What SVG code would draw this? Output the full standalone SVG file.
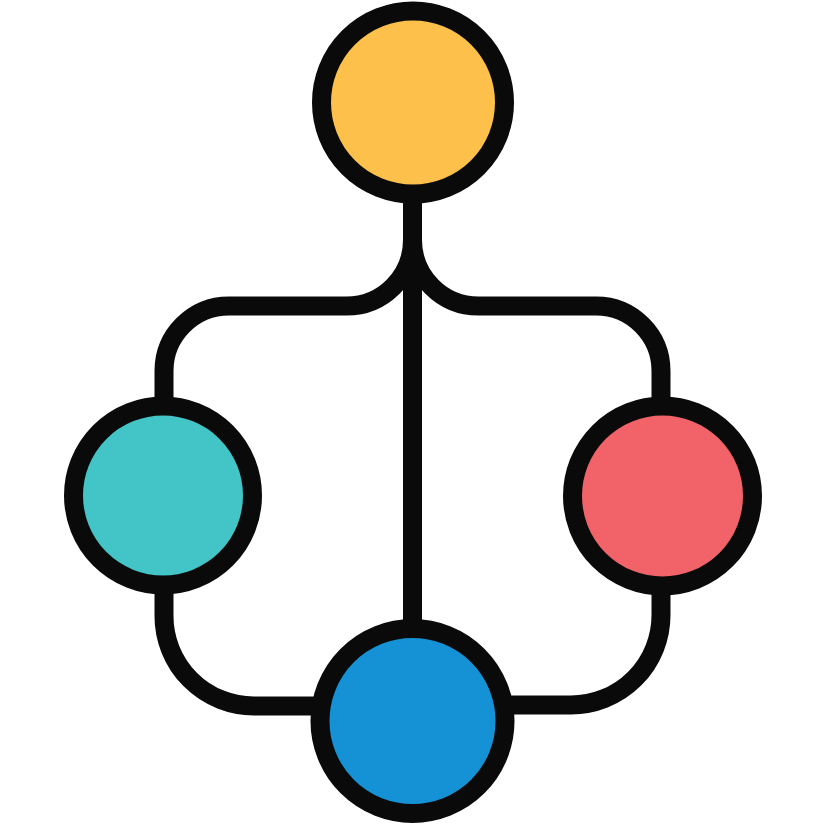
<svg xmlns="http://www.w3.org/2000/svg" width="825" height="825" viewBox="0 0 825 825">
  <style>
    .conn { fill: none; stroke: #0a0a0a; stroke-width: 19; stroke-linecap: butt; stroke-linejoin: round; }
    .node { stroke: #0a0a0a; stroke-width: 19; }
  </style>
  <rect width="825" height="825" fill="#ffffff"/>
  <g id="connectors">
    <path class="conn" d="M412.5 190 V240 A66 66 0 0 1 346.5 306 H229 A65 65 0 0 0 164 371 V420"/>
    <path class="conn" d="M412.5 240 A66 66 0 0 0 478.5 306 H596 A65 65 0 0 1 661 371 V420"/>
    <path class="conn" d="M412.5 190 V640"/>
    <path class="conn" d="M164 570 V616 A90 90 0 0 0 254 706 H330"/>
    <path class="conn" d="M661 570 V615 A90 90 0 0 1 571 705 H500"/>
  </g>
  <g id="node-top">
    <circle class="node" cx="413" cy="102.5" r="91.5" fill="#fdc04a"/>
  </g>
  <g id="node-left">
    <circle class="node" cx="163" cy="495.5" r="89.5" fill="#43c4c6"/>
  </g>
  <g id="node-right">
    <circle class="node" cx="662.5" cy="496" r="90" fill="#f16368"/>
  </g>
  <g id="node-bottom">
    <circle class="node" cx="412.5" cy="721" r="92.5" fill="#1592d6" stroke-width="20"/>
  </g>
</svg>
